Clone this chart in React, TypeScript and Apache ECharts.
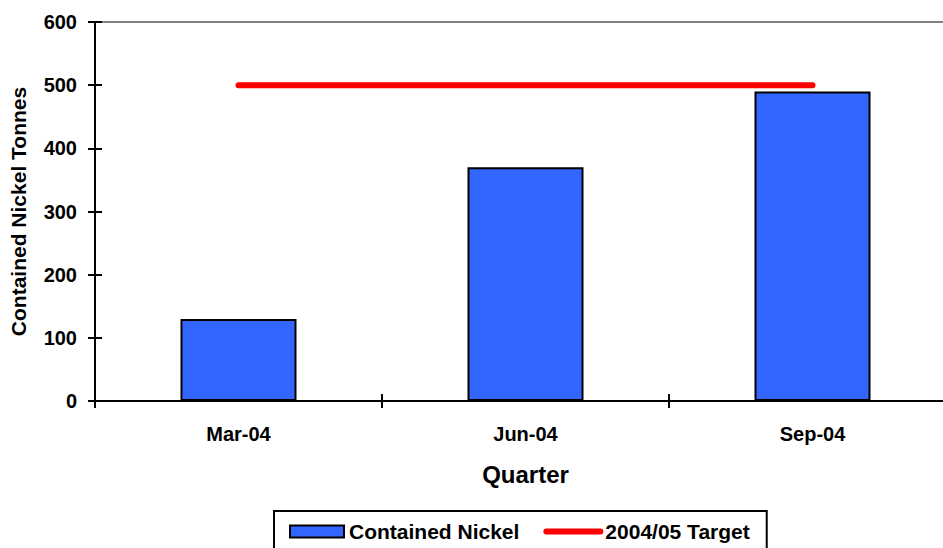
import React, { useEffect, useRef } from "react";
import * as echarts from "echarts";

const categories = ["Mar-04", "Jun-04", "Sep-04"];
const containedNickel = [130, 370, 490];
const target = [500, 500, 500];
const FONT = "Arial, 'Liberation Sans', sans-serif";

export default function App() {
  const ref = useRef<HTMLDivElement>(null);
  useEffect(() => {
    if (!ref.current) return;
    const chart = echarts.init(ref.current, undefined, { renderer: "svg" });
    chart.setOption({
      animation: false,
      backgroundColor: "#ffffff",
      textStyle: { fontFamily: FONT },
      grid: {
        left: 95,
        top: 22,
        width: 861,
        height: 379,
        outerBoundsMode: "none",
        containLabel: false,
        show: true,
        borderColor: "#808080",
        borderWidth: 2,
        backgroundColor: "transparent",
      },
      legend: {
        left: 274,
        top: 511,
        padding: [10, 17, 20, 15],
        itemGap: 24,
        itemWidth: 54,
        itemHeight: 12,
        borderColor: "#000",
        borderWidth: 2,
        textStyle: { fontFamily: FONT, fontWeight: "bold", fontSize: 21, color: "#000" },
        data: [
          { name: "Contained Nickel", icon: "rect" },
          {
            name: "2004/05 Target",
            itemStyle: { opacity: 0 },
            lineStyle: { color: "#FF0000", width: 6, cap: "round" },
          },
        ],
      },
      xAxis: [
        {
          type: "category",
          data: categories,
          boundaryGap: true,
          name: "Quarter",
          nameLocation: "middle",
          nameGap: 61,
          nameTextStyle: { fontFamily: FONT, fontWeight: "bold", fontSize: 24, color: "#000" },
          axisLine: { lineStyle: { color: "#000", width: 2 } },
          axisTick: { show: true, length: 7, lineStyle: { color: "#000", width: 2 } },
          axisLabel: { fontFamily: FONT, fontWeight: "bold", fontSize: 20, color: "#000", margin: 23 },
          splitLine: { show: false },
        },
        {
          type: "category",
          data: categories,
          position: "bottom",
          boundaryGap: true,
          axisLine: { show: false },
          axisTick: { show: true, inside: true, length: 7, lineStyle: { color: "#000", width: 2 } },
          axisLabel: { show: false },
          splitLine: { show: false },
        },
      ],
      yAxis: [
        {
          type: "value",
          min: 0,
          max: 600,
          interval: 100,
          name: "Contained Nickel Tonnes",
          nameLocation: "middle",
          nameGap: 66,
          nameTextStyle: { fontFamily: FONT, fontWeight: "bold", fontSize: 21, color: "#000" },
          axisLine: { show: true, lineStyle: { color: "#000", width: 2 } },
          axisTick: { show: true, length: 7, lineStyle: { color: "#000", width: 2 } },
          axisLabel: { fontFamily: FONT, fontWeight: "bold", fontSize: 20, color: "#000", margin: 18 },
          splitLine: { show: false },
        },
        {
          type: "value",
          min: 0,
          max: 600,
          interval: 100,
          position: "left",
          axisLine: { show: false },
          axisTick: { show: true, inside: true, length: 7, lineStyle: { color: "#000", width: 2 } },
          axisLabel: { show: false },
          splitLine: { show: false },
        },
      ],
      series: [
        {
          name: "Contained Nickel",
          type: "bar",
          data: containedNickel,
          barWidth: 116,
          itemStyle: { color: "#3366FF", borderColor: "#000", borderWidth: 2 },
        },
        {
          name: "2004/05 Target",
          type: "line",
          data: target,
          symbol: "none",
          lineStyle: { color: "#FF0000", width: 6, cap: "round" },
          itemStyle: { color: "#FF0000" },
          z: 3,
        },
      ],
    });
    return () => chart.dispose();
  }, []);
  return (
    <div
      ref={ref}
      style={{ position: "absolute", left: 0, top: 0, width: 943, height: 548 }}
    />
  );
}
